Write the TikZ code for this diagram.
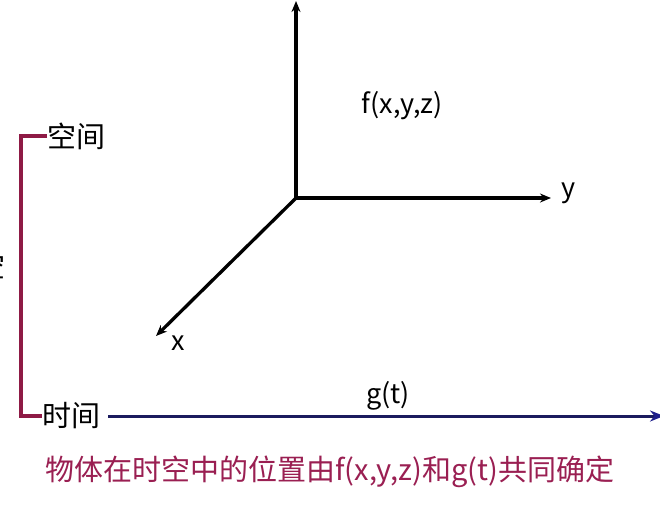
\documentclass[tikz,border=0pt]{standalone}
\usepackage{fontspec}
\setmainfont{Noto Sans CJK SC}
\usetikzlibrary{arrows.meta}
\definecolor{crim}{HTML}{8E1A45}
\definecolor{capcol}{HTML}{9A1F52}
\definecolor{navy}{HTML}{1B1B5E}
\definecolor{tipblue}{HTML}{1E1E8C}
\begin{document}
\begin{tikzpicture}[x=1pt,y=-1pt,
  axis/.style={line width=3.3pt,-{Stealth[length=11pt,width=9pt]}},
  lbl/.style={inner sep=0pt,font=\fontsize{27}{30}\selectfont},
  cjk/.style={inner sep=0pt,font=\fontsize{29}{32}\selectfont}]
\useasboundingbox[fill=white] (0,0) rectangle (660,507);
% axes
\coordinate (O) at (296,198);
\coordinate (zt) at (296,1);
\coordinate (yt) at (551,198);
\coordinate (xt) at (156,336);
\draw[axis] (O) -- (zt);
\draw[axis] (O) -- (yt);
\draw[axis] (O) -- (xt);
\node[lbl] (ylab) at (569,193) {y};
\node[lbl] (xlab) at (178,343) {x};
\node[lbl] (f) at (402,106) {f(x,y,z)};
% bracket
\node[cjk,anchor=west] (space) at (47,136) {空间};
\node[cjk,anchor=west] (time) at (42,416) {时间};
\node[cjk] (st) at (-9,266) {空};
\draw[crim,line width=3.6pt] (space.west) -- ++(-26,0) coordinate (bt) |- (time.west);
% time axis
\coordinate (te) at (664,416);
\draw[navy,line width=3pt,-{Stealth[length=14pt,width=11pt,color=tipblue]}] (time.east) ++(8,0) -- (te);
\node[lbl] (g) at (388,396) {g(t)};
% caption
\node[cjk,text=capcol] (cap) at (330,472) {物体在时空中的位置由f(x,y,z)和g(t)共同确定};
\end{tikzpicture}
\end{document}
